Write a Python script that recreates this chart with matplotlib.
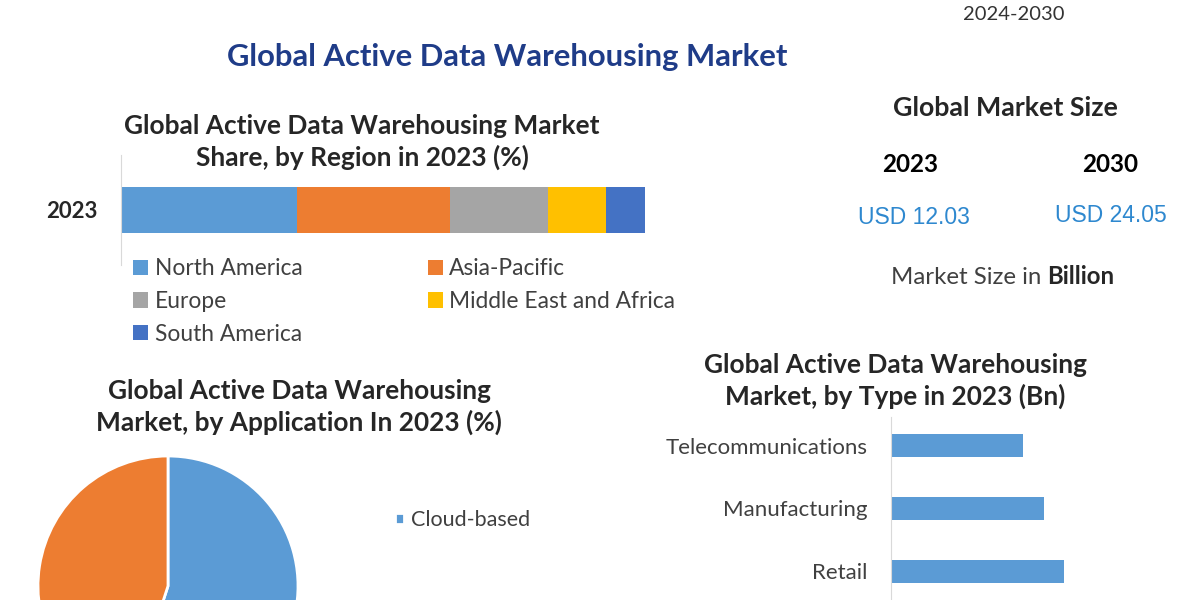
import numpy as np
import matplotlib.pyplot as plt

plt.rcParams['font.family'] = ['Lato', 'DejaVu Sans']

# data
regions = ['North America', 'Asia-Pacific', 'Europe', 'Middle East and Africa', 'South America']
region_share = [33.6, 29.2, 18.7, 11.1, 7.4]
region_colors = ['#5b9bd5', '#ed7d31', '#a5a5a5', '#ffc000', '#4472c4']

applications = ['Cloud-based', 'On-premises']
application_share = [55, 45]
application_colors = ['#5b9bd5', '#ed7d31']

types = ['Retail', 'Manufacturing', 'Telecommunications']
type_size = [3.0, 2.65, 2.3]

size_years = ['2023', '2030']
size_values = ['USD 12.03', 'USD 24.05']

W, H = 1200, 600


def fx(x):
    return x / W


def fy(y):
    return 1 - y / H


fig = plt.figure(figsize=(12, 6), dpi=100)

dark = '#262626'
grey = '#404040'

fig.text(fx(1014), fy(15), '2024-2030', ha='center', va='center', fontsize=14.5, color='#333333')
fig.text(fx(507), fy(57), 'Global Active Data Warehousing Market', ha='center', va='center',
         fontsize=22.3, fontweight='bold', color='#1f3c88')

# region share stacked bar
fig.text(fx(362), fy(142), 'Global Active Data Warehousing Market\nShare, by Region in 2023 (%)',
         ha='center', va='center', fontsize=18.9, fontweight='bold', color=dark, linespacing=1.3)

ax1 = fig.add_axes([fx(121), fy(265), (645 - 121) / W, 110 / H])
lefts = np.concatenate([[0], np.cumsum(region_share)[:-1]])
bars = []
for name, val, left, col in zip(regions, region_share, lefts, region_colors):
    b = ax1.barh([0], [val], left=left, height=0.41, color=col, label=name)
    bars.append(b)
ax1.set_xlim(0, sum(region_share))
ax1.set_ylim(-0.5, 0.5)
ax1.set_xticks([])
ax1.set_yticks([0], ['2023'])
ax1.tick_params(axis='y', length=0, pad=17, labelsize=16)
for lab in ax1.get_yticklabels():
    lab.set_fontweight('bold')
    lab.set_color(dark)
for s in ['top', 'right', 'bottom']:
    ax1.spines[s].set_visible(False)
ax1.spines['left'].set_color('#d9d9d9')

order = [0, 2, 4, 1, 3]
fig.legend([bars[i] for i in order], [regions[i] for i in order],
           loc='upper left', bbox_to_anchor=(fx(124), fy(249)), ncol=2, frameon=False,
           fontsize=16.4, handlelength=0.65, handleheight=0.65, handletextpad=0.3,
           columnspacing=5.5, labelspacing=0.52, labelcolor=grey, borderaxespad=0)

# market size block
fig.text(fx(1005), fy(108), 'Global Market Size', ha='center', va='center',
         fontsize=19.3, fontweight='bold', color=dark)
for x, yr in zip([910, 1110], size_years):
    fig.text(fx(x), fy(165), yr, ha='center', va='center', fontsize=17.5, fontweight='bold', color='black')
for x, y, val in zip([914, 1111], [218, 215], size_values):
    fig.text(fx(x), fy(y), val, ha='center', va='center', fontsize=16.5,
             family='Liberation Sans', color='#2e88cf')
fig.text(fx(891), fy(277), 'Market Size in ', ha='left', va='center', fontsize=17.3, color=grey)
fig.text(fx(1047), fy(277), 'Billion', ha='left', va='center', fontsize=17.3, fontweight='bold', color=dark)

# application pie
fig.text(fx(299), fy(407), 'Global Active Data Warehousing\nMarket, by Application In 2023 (%)',
         ha='center', va='center', fontsize=18.9, fontweight='bold', color=dark, linespacing=1.3)
ax2 = fig.add_axes([fx(38), fy(716), 260 / W, 260 / H])
wedges, _ = ax2.pie(application_share, colors=application_colors, startangle=90, counterclock=False,
                    wedgeprops=dict(edgecolor='white', linewidth=2))
ax2.set_xlim(-1, 1)
ax2.set_ylim(-1, 1)
fig.legend([wedges[0]], [applications[0]], loc='center left', bbox_to_anchor=(fx(386), fy(520)),
           frameon=False, fontsize=15.5, handlelength=0.45, handleheight=0.45, handletextpad=0.3,
           labelcolor=grey, borderaxespad=0)

# type bars
fig.text(fx(895), fy(381), 'Global Active Data Warehousing\nMarket, by Type in 2023 (Bn)',
         ha='center', va='center', fontsize=18.9, fontweight='bold', color=dark, linespacing=1.3)
ax3 = fig.add_axes([fx(891), fy(600), (1150 - 891) / W, (600 - 417) / H])
ax3.barh(np.arange(len(types)), type_size, height=0.37, color='#5b9bd5')
ax3.set_yticks(np.arange(len(types)), types)
ax3.set_ylim(-0.46, 2.46)
ax3.set_xlim(0, 4.5)
ax3.set_xticks([])
ax3.tick_params(axis='y', length=0, pad=17, labelsize=16, labelcolor=grey)
for s in ['top', 'right', 'bottom']:
    ax3.spines[s].set_visible(False)
ax3.spines['left'].set_color('#d9d9d9')

fig.savefig('out.png', dpi=100)
